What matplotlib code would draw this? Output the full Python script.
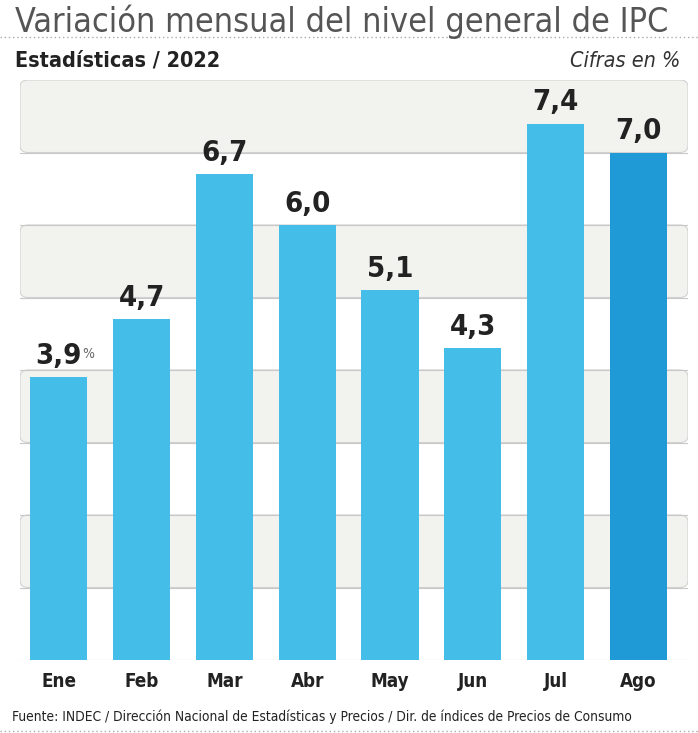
import matplotlib

matplotlib.use("Agg")
import matplotlib.pyplot as plt
from matplotlib.patches import FancyBboxPatch
from matplotlib.lines import Line2D

months = ["Ene", "Feb", "Mar", "Abr", "May", "Jun", "Jul", "Ago"]
values = [3.9, 4.7, 6.7, 6.0, 5.1, 4.3, 7.4, 7.0]
labels = ["3,9", "4,7", "6,7", "6,0", "5,1", "4,3", "7,4", "7,0"]

title = "Variación mensual del nivel general de IPC"
subtitle = "Estadísticas / 2022"
units = "Cifras en %"
source = "Fuente: INDEC / Dirección Nacional de Estadísticas y Precios / Dir. de índices de Precios de Consumo"

plt.rcParams["font.family"] = ["DejaVu Sans"]
plt.rcParams["font.stretch"] = "condensed"

W, H = 698, 733
fig = plt.figure(figsize=(W / 100, H / 100), dpi=100)

# plot area: x 20..688 px, y 80..660 px (from top)
ax = fig.add_axes([20 / W, (H - 660) / H, 668 / W, 580 / H])
ax.set_xlim(-0.47, 7.6)
ax.set_ylim(0, 8)
ax.axis("off")

# alternating background bands
for lo in [1, 3, 5, 7]:
    band = FancyBboxPatch((0, lo / 8), 1, 1 / 8, transform=ax.transAxes,
                          boxstyle="round,pad=0,rounding_size=0.012",
                          facecolor="#f2f2ef", edgecolor="#d2d2d2", lw=0.8, zorder=0)
    ax.add_patch(band)
for y in range(0, 8):
    ax.axhline(y, color="#c8c8c8", lw=0.8, zorder=0.5)

colors = ["#44bee8"] * 7 + ["#1f9ad6"]
x = list(range(len(months)))
ax.bar(x, values, width=0.69, color=colors, zorder=2)

for i, (v, lab) in enumerate(zip(values, labels)):
    ax.text(i, v + 0.1, lab, ha="center", va="bottom", fontsize=21,
            fontweight="bold", color="#222222", zorder=3)
ax.text(0.0 + 0.28, values[0] + 0.22, "%", ha="left", va="bottom", fontsize=10,
        color="#666666", zorder=3)

for i, m in enumerate(months):
    ax.text(i, -0.17, m, ha="center", va="top", fontsize=13.5, fontweight="bold",
            color="#222222", clip_on=False)

fig.text(15 / W, 1 - 22 / H, title, ha="left", va="center", fontsize=24.5, color="#555555")
fig.text(15 / W, 1 - 61 / H, subtitle, ha="left", va="center", fontsize=15.5,
         fontweight="bold", color="#222222")
fig.text(680 / W, 1 - 61 / H, units, ha="right", va="center", fontsize=15.5,
         style="italic", color="#333333")
fig.text(12 / W, 1 - 717 / H, source, ha="left", va="center", fontsize=9.9, color="#222222")

for yy in [37, 731]:
    fig.add_artist(Line2D([0, 1], [1 - yy / H, 1 - yy / H], transform=fig.transFigure,
                          color="#aaaaaa", lw=1, ls=(0, (1, 2))))

fig.savefig("out.png", dpi=100)
